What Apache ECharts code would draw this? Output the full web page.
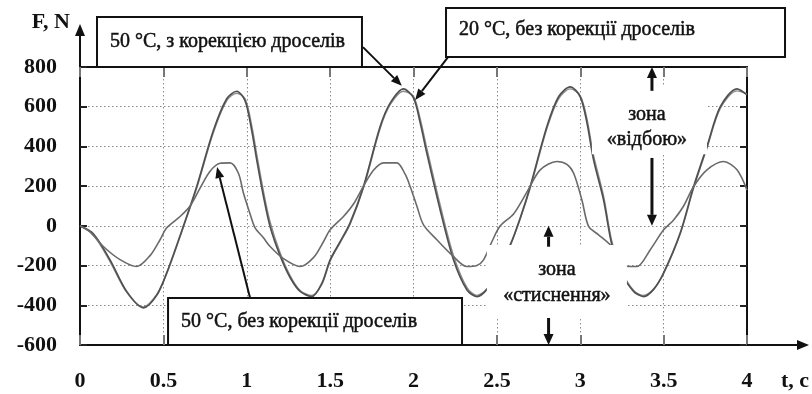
<!DOCTYPE html>
<html>
<head>
<meta charset="utf-8">
<script src="https://cdn.jsdelivr.net/npm/echarts@6/dist/echarts.min.js"></script>
<style>
  html, body { margin: 0; padding: 0; background: #fff; }
  #chart { width: 812px; height: 394px; }
</style>
</head>
<body>
<div id="chart"></div>
<script>
// tick labels
const xTickLabels = ['0', '0.5', '1', '1.5', '2', '2.5', '3', '3.5', '4']
const yTickLabels = ['-600', '-400', '-200', '0', '200', '400', '600', '800']

// 50 °C, з корекцією / 20 °C, без корекції (large curves share time points)
const tBig = [0, 0.08, 0.18, 0.28, 0.38, 0.46, 0.52, 0.6, 0.7, 0.8, 0.88, 0.94, 0.99, 1.03, 1.06, 1.1, 1.14, 1.2, 1.26, 1.32,
    1.39, 1.45, 1.5, 1.56, 1.62, 1.7, 1.8, 1.86, 1.94, 2.0, 2.04, 2.08, 2.16, 2.24, 2.32, 2.38, 2.44, 2.5, 2.58, 2.64,
    2.7, 2.8, 2.87, 2.94, 3.0, 3.04, 3.08, 3.14, 3.19, 3.25, 3.32, 3.38, 3.44, 3.5, 3.6, 3.68, 3.76, 3.84, 3.94, 4.0]
const fBig50 = [0, -40, -171, -330, -413, -350, -237, -50, 198, 480, 640, 678, 630, 480, 332, 150, -3, -150, -260, -330,
    -356, -290, -171, -80, 15, 198, 500, 618, 690, 645, 520, 366, 80, -171, -322, -356, -320, -230, -96, 40,
    198, 500, 650, 700, 650, 520, 332, 130, -96, -240, -330, -356, -320, -237, -35, 198, 400, 600, 690, 660]
const fBig20 = [0, -45, -180, -335, -408, -345, -240, -55, 190, 470, 630, 668, 640, 505, 360, 175, 20, -135, -250, -325,
    -350, -295, -178, -85, 8, 190, 490, 610, 678, 652, 540, 390, 105, -150, -310, -350, -318, -235, -100, 35,
    190, 490, 640, 690, 655, 540, 355, 150, -80, -230, -325, -350, -318, -240, -40, 190, 392, 592, 680, 665]

// 50 °C, без корекції
const tSmall = [0, 0.06, 0.14, 0.24, 0.34, 0.42, 0.48, 0.52, 0.6, 0.66, 0.72, 0.78, 0.84, 0.9, 0.95, 0.98, 1.02, 1.05, 1.1, 1.14,
    1.22, 1.32, 1.4, 1.46, 1.5, 1.58, 1.64, 1.7, 1.76, 1.82, 1.9, 1.95, 1.98, 2.02, 2.06, 2.14, 2.24, 2.32, 2.38, 2.42,
    2.47, 2.52, 2.6, 2.68, 2.76, 2.86, 2.92, 2.96, 3.01, 3.05, 3.11, 3.18, 3.24, 3.29, 3.34, 3.42, 3.5, 3.56, 3.62, 3.68,
    3.76, 3.86, 3.94, 4.0]
const fSmall = [0, -30, -104, -170, -205, -150, -70, -10, 47, 100, 190, 275, 315, 317, 265, 165, 60, -10, -60, -104,
    -165, -205, -160, -80, -20, 47, 110, 200, 280, 317, 317, 260, 198, 100, 5, -70, -155, -205, -200, -171,
    -80, 0, 60, 170, 282, 324, 310, 266, 130, -3, -45, -96, -170, -205, -205, -120, -20, 30, 100, 198,
    282, 324, 282, 180]

const zip = (ts, fs) => ts.map((t, i) => [t, fs[i]])

const FONT = 'Liberation Serif'
const chart = echarts.init(document.getElementById('chart'))

const axisLine = { show: true, onZero: false, lineStyle: { color: '#111', width: 2 } }
const gridLine = { show: true, lineStyle: { color: '#8a8a8a', width: 1, type: [1.5, 2.5] } }

chart.setOption({
    animation: false,
    grid: { left: 80, right: 65, top: 67, bottom: 49, containLabel: false, outerBoundsMode: 'none' },
    xAxis: [
        {
            type: 'value', min: 0, max: 4, interval: 0.5, position: 'bottom',
            axisLine: axisLine,
            axisTick: { show: true, inside: true, length: 10, lineStyle: { color: '#777', width: 2 } },
            axisLabel: {
                show: true, margin: 25, color: '#111', fontFamily: FONT, fontWeight: 'bold', fontSize: 22,
                showMinLabel: true, showMaxLabel: true,
                formatter: v => xTickLabels[Math.round(v / 0.5)]
            },
            splitLine: gridLine
        },
        {
            type: 'value', min: 0, max: 4, interval: 0.5, position: 'top',
            axisLine: axisLine,
            axisTick: { show: true, inside: true, length: 10, lineStyle: { color: '#777', width: 2 } },
            axisLabel: { show: false },
            splitLine: { show: false }
        }
    ],
    yAxis: [
        {
            type: 'value', min: -600, max: 800, interval: 200, position: 'left',
            axisLine: axisLine,
            axisTick: { show: true, inside: true, length: 7, lineStyle: { color: '#222', width: 2 } },
            axisLabel: {
                show: true, margin: 23, color: '#111', fontFamily: FONT, fontWeight: 'bold', fontSize: 22,
                showMinLabel: true, showMaxLabel: true,
                formatter: v => yTickLabels[Math.round((v + 600) / 200)]
            },
            splitLine: gridLine
        },
        {
            type: 'value', min: -600, max: 800, interval: 200, position: 'right',
            axisLine: axisLine,
            axisTick: { show: true, inside: true, length: 7, lineStyle: { color: '#222', width: 2 } },
            axisLabel: { show: false },
            splitLine: { show: false }
        }
    ],
    series: [
        {
            name: '20 °C, без корекції дроселів', type: 'line', smooth: 0.3, symbol: 'none',
            lineStyle: { color: '#8c8c8c', width: 1.4 },
            data: zip(tBig, fBig20), z: 3
        },
        {
            name: '50 °C, з корекцією дроселів', type: 'line', smooth: 0.3, symbol: 'none',
            lineStyle: { color: '#505050', width: 1.7 },
            data: zip(tBig, fBig50), z: 4
        },
        {
            name: '50 °C, без корекції дроселів', type: 'line', smooth: 0.3, symbol: 'none',
            lineStyle: { color: '#6a6a6a', width: 1.6 },
            data: zip(tSmall, fSmall), z: 5
        }
    ]
})

// annotations, placed in data coordinates
const toPx = (t, f) => chart.convertToPixel({ xAxisIndex: 0, yAxisIndex: 0 }, [t, f])

function box (t0, f0, t1, f1, stroke) {
    const a = toPx(t0, f0)
    const b = toPx(t1, f1)
    return {
        type: 'rect', z: 100,
        shape: { x: Math.min(a[0], b[0]), y: Math.min(a[1], b[1]), width: Math.abs(b[0] - a[0]), height: Math.abs(b[1] - a[1]) },
        style: { fill: '#fff', stroke: stroke ? '#111' : null, lineWidth: stroke ? 2 : 0 }
    }
}

function arrow (from, to, w, headLen, headW) {
    const p0 = toPx(from[0], from[1])
    const p1 = toPx(to[0], to[1])
    const dx = p1[0] - p0[0]
    const dy = p1[1] - p0[1]
    const len = Math.sqrt(dx * dx + dy * dy)
    const ux = dx / len
    const uy = dy / len
    const bx = p1[0] - ux * headLen
    const by = p1[1] - uy * headLen
    return [
        { type: 'line', z: 101, shape: { x1: p0[0], y1: p0[1], x2: bx, y2: by }, style: { stroke: '#111', lineWidth: w } },
        {
            type: 'polygon', z: 101,
            shape: { points: [[p1[0], p1[1]], [bx - uy * headW, by + ux * headW], [bx + uy * headW, by - ux * headW]] },
            style: { fill: '#111' }
        }
    ]
}

function label (t, f, text, align, size) {
    const p = toPx(t, f)
    return {
        type: 'text', z: 102, x: p[0], y: p[1],
        style: {
            text: text, fill: '#111', stroke: '#111', lineWidth: 0.5,
            font: (size || 20) + 'px "' + FONT + '"', align: align || 'left', verticalAlign: 'middle'
        }
    }
}

const yAxisTop = toPx(0, 800)
const xAxisEnd = toPx(4, -600)

chart.setOption({
    graphic: [
        // axis extensions with arrows
        { type: 'line', z: 99, shape: { x1: xAxisEnd[0], y1: xAxisEnd[1], x2: 800, y2: xAxisEnd[1] }, style: { stroke: '#111', lineWidth: 2 } },
        { type: 'polygon', z: 99, shape: { points: [[809, xAxisEnd[1]], [797, xAxisEnd[1] - 5], [797, xAxisEnd[1] + 5]] }, style: { fill: '#111' } },
        { type: 'line', z: 99, shape: { x1: yAxisTop[0], y1: yAxisTop[1], x2: yAxisTop[0], y2: 34 }, style: { stroke: '#111', lineWidth: 2 } },
        { type: 'polygon', z: 99, shape: { points: [[yAxisTop[0], 24], [yAxisTop[0] - 5, 36], [yAxisTop[0] + 5, 36]] }, style: { fill: '#111' } },
        { type: 'text', z: 102, x: 70, y: 22, style: { text: 'F, N', fill: '#111', font: 'bold 22px "' + FONT + '"', align: 'right', verticalAlign: 'middle' } },
        { type: 'text', z: 102, x: 809, y: 381, style: { text: 't, c', fill: '#111', font: 'bold 22px "' + FONT + '"', align: 'right', verticalAlign: 'middle' } },

        // white zones over the curves
        box(3.07, 700, 3.76, 360, false),
        box(2.44, -96, 3.28, -464, false),
        label(3.40, 558, 'зона', 'center', 20),
        label(3.40, 432, '«відбою»', 'center', 20),
        label(2.86, -222, 'зона', 'center', 20),
        label(2.86, -353, '«стиснення»', 'center', 20),
        ...arrow([3.43, 680], [3.43, 800], 3, 11, 5),
        ...arrow([3.43, 342], [3.43, 0], 3, 11, 5),
        ...arrow([2.81, -105], [2.81, 0], 3, 11, 5),
        ...arrow([2.81, -464], [2.81, -600], 3, 11, 5),

        // callouts
        box(0.102, 1052, 1.691, 800, true),
        box(2.195, 1097, 4.228, 850, true),
        box(0.528, -363, 2.291, -600, true),
        label(0.18, 926, '50 °C, з корекцією дроселів'),
        label(2.273, 986, '20 °C, без корекції дроселів'),
        label(0.606, -484, '50 °C, без корекції дроселів'),
        ...arrow([1.697, 900], [1.93, 705], 2, 11, 4.5),
        ...arrow([2.207, 850], [2.01, 634], 2, 11, 4.5),
        ...arrow([1.02, -363], [0.822, 296], 2, 11, 4.5)
    ]
})
</script>
</body>
</html>
